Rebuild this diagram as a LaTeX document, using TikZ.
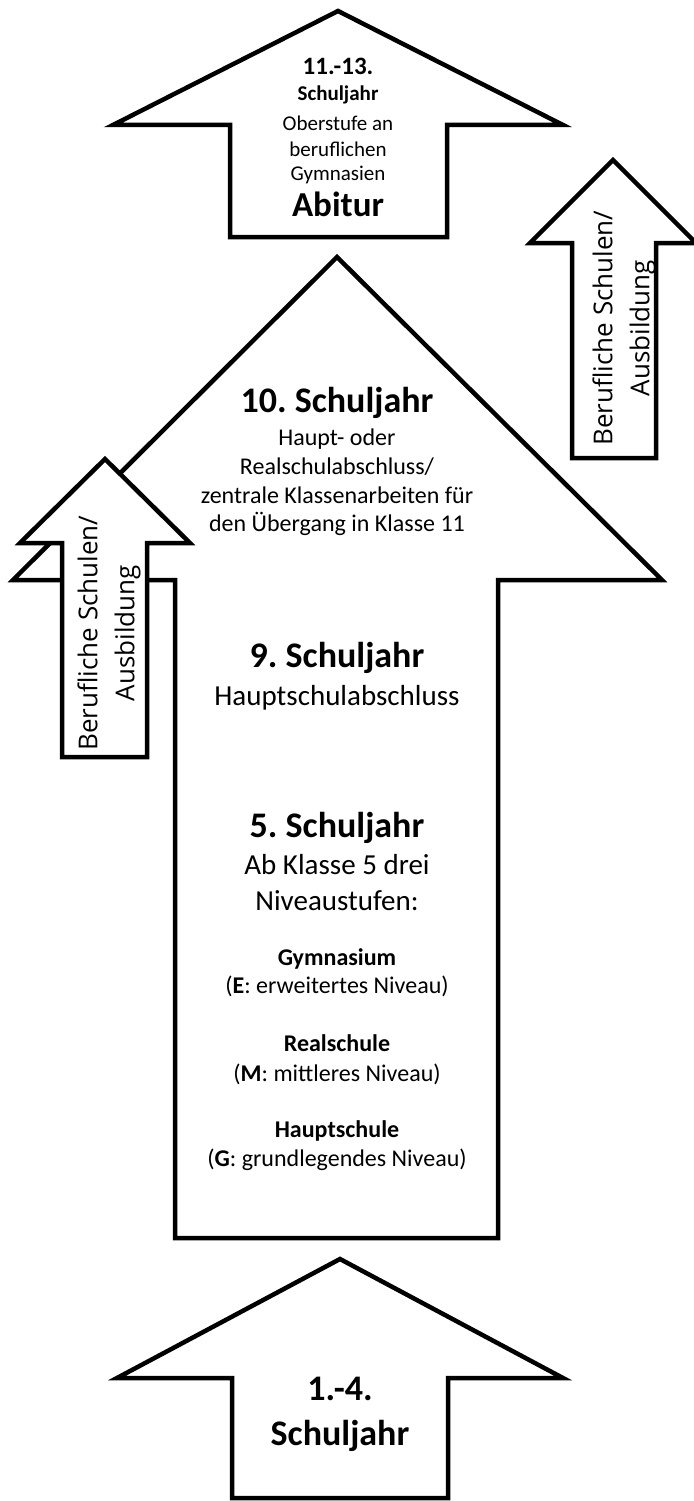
\documentclass[tikz,border=0pt]{standalone}
\usepackage{fontspec}
\setmainfont{Carlito}
\newfontfamily\sidefont{Open Sans}
\newcommand\fsz[1]{\fontsize{#1}{#1}\selectfont}
\frenchspacing
\tikzset{
  arrowshape/.style={draw=black, fill=white, line width=4.5pt, line join=miter},
  line/.style={anchor=base, inner sep=0pt},
  yearbig/.style={line, font=\bfseries\fsz{36}},
  yearsmall/.style={line, font=\bfseries\fsz{21}},
  textmid/.style={line, font=\fsz{29}},
  textsmall/.style={line, font=\fsz{24}},
  typebold/.style={line, font=\bfseries\fsz{24}},
  sidetext/.style={rotate=90, align=center, inner sep=0pt, font=\sidefont\fontsize{26}{37}\selectfont}
}
\begin{document}
\begin{tikzpicture}[x=1pt, y=-1pt]
\path[use as bounding box, fill=white] (0,0) rectangle (693,1501);

% Oberstufe
\draw[arrowshape] (338,11) -- (563,125) -- (447,125) -- (447,237) -- (230,237) -- (230,125) -- (113,125) -- cycle;
\node[line, font=\bfseries\fsz{25}] (ob1) at (338,75) {11.-13.};
\node[yearsmall] (ob2) at (338,101) {Schuljahr};
\node[line, font=\fsz{21}] (ob3) at (338,131) {Oberstufe an};
\node[line, font=\fsz{21}] (ob4) at (338,156) {beruflichen};
\node[line, font=\fsz{21}] (ob5) at (338,180) {Gymnasien};
\node[line, font=\bfseries\fsz{35}] (abi) at (338,216) {Abitur};

% rechts: berufliche Schulen
\draw[arrowshape] (613,160) -- (696,243) -- (656,243) -- (656,458) -- (572,458) -- (572,243) -- (530,243) -- cycle;
\node[sidetext] (bsr) at (624,328) {Berufliche Schulen/\\Ausbildung};

% Hauptpfeil 5.-10. Schuljahr
\draw[arrowshape] (337,257) -- (662,580) -- (498,580) -- (498,1238) -- (175,1238) -- (175,580) -- (13,580) -- cycle;
\node[yearbig] (kl10) at (337,412) {10. Schuljahr};
\node[textsmall] (kl10a) at (337,445) {Haupt- oder};
\node[textsmall] (kl10b) at (337,474) {Realschulabschluss/};
\node[textsmall] (kl10c) at (337,503) {zentrale Klassenarbeiten für};
\node[textsmall] (kl10d) at (337,531) {den Übergang in Klasse 11};
\node[yearbig] (kl9) at (337,667) {9. Schuljahr};
\node[textmid] (kl9a) at (337,705) {Hauptschulabschluss};
\node[yearbig] (kl5) at (337,837) {5. Schuljahr};
\node[textmid] (kl5a) at (337,874) {Ab Klasse 5 drei};
\node[textmid] (kl5b) at (337,910) {Niveaustufen:};
\node[typebold] (gym) at (337,965) {Gymnasium};
\node[textsmall] (gyma) at (337,993) {(\textbf{E}: erweitertes Niveau)};
\node[typebold] (real) at (337,1051) {Realschule};
\node[textsmall] (reala) at (337,1081) {(\textbf{M}: mittleres Niveau)};
\node[typebold] (haupt) at (337,1137) {Hauptschule};
\node[textsmall] (haupta) at (337,1166) {(\textbf{G}: grundlegendes Niveau)};

% links: berufliche Schulen
\draw[arrowshape] (105,459) -- (190,543) -- (147,543) -- (147,757) -- (62,757) -- (62,543) -- (20,543) -- cycle;
\node[sidetext] (bsl) at (109,633) {Berufliche Schulen/\\Ausbildung};

% Grundschule
\draw[arrowshape] (340,1259) -- (563,1378) -- (448,1378) -- (448,1498) -- (232,1498) -- (232,1378) -- (117,1378) -- cycle;
\node[yearbig] (gs1) at (340,1400) {1.-4.};
\node[yearbig] (gs2) at (340,1445) {Schuljahr};
\end{tikzpicture}
\end{document}
